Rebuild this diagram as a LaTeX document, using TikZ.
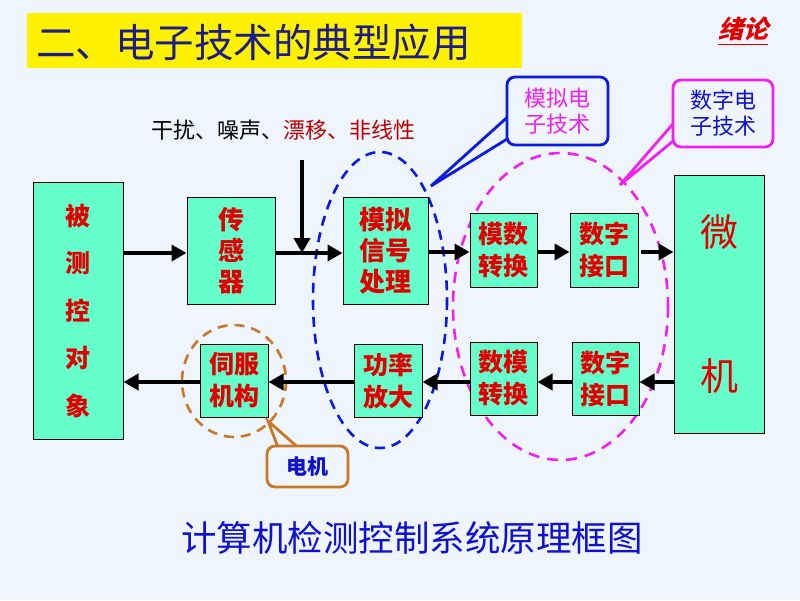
\documentclass[tikz,border=0pt]{standalone}
\usepackage{fontspec}
\setmainfont{Noto Sans CJK SC}
\newfontfamily\slantcjk[FakeSlant=0.25]{Noto Sans CJK SC}
\usetikzlibrary{arrows.meta}
\definecolor{bgc}{HTML}{EEF5FC}
\definecolor{boxg}{HTML}{66FFCC}
\definecolor{boxred}{HTML}{E00000}
\definecolor{darkred}{HTML}{C00000}
\definecolor{titleblue}{HTML}{1C1C8C}
\definecolor{capblue}{HTML}{1010D0}
\definecolor{elblue}{HTML}{0A1AE0}
\definecolor{mag}{HTML}{F020F0}
\definecolor{org}{HTML}{C87828}
\tikzset{
  blockbox/.style={draw=black, line width=1pt, fill=boxg, inner sep=0pt, text=boxred, align=center},
  flow/.style={line width=4.5pt, -{Triangle[length=15pt,width=16pt]}},
  callout/.style={rounded corners=8pt, line width=2.8pt, fill=bgc, inner sep=0pt, align=center},
}
\begin{document}
\begin{tikzpicture}[x=1pt,y=-1pt]
\fill[bgc] (0,0) rectangle (800,600);
\useasboundingbox (0,0) rectangle (800,600);
% title
\fill[yellow] (27,13) rectangle (522,68);
\node[anchor=west, inner sep=0pt, text=titleblue, font=\fontsize{39.5}{41}\selectfont] (title) at (36,42) {二、电子技术的典型应用};
\node[inner sep=0pt, text=boxred, font=\slantcjk\bfseries\fontsize{25}{27}\selectfont] (xulun) at (743,29) {绪论};
\draw[boxred, line width=1.2pt] ([yshift=-3pt]xulun.south west) -- ([yshift=-3pt]xulun.south east);
% disturbance text
\node[inner sep=0pt, font=\fontsize{22}{24}\selectfont] (noisetxt) at (283,130) {干扰、噪声、\textcolor{darkred}{漂移、非线性}};
% ellipses
\draw[elblue, line width=2.6pt, dash pattern=on 10pt off 7pt] (380,300) ellipse [x radius=67, y radius=148];
\draw[mag, line width=2.6pt, dash pattern=on 11pt off 8pt] (560.5,306.5) ellipse [x radius=107.5, y radius=153.5];
\draw[org, line width=2.6pt, dash pattern=on 10pt off 7pt] (234,381) ellipse [x radius=52, y radius=56];
% blocks
\node[blockbox, minimum width=90pt, minimum height=257pt, font=\bfseries\fontsize{25}{47.5}\selectfont] (obj) at (78,310.5) {被\\测\\控\\对\\象};
\node[blockbox, minimum width=88pt, minimum height=107pt, font=\bfseries\fontsize{26}{31}\selectfont] (sens) at (231,250.5) {传\\感\\器};
\node[blockbox, minimum width=85pt, minimum height=107pt, font=\bfseries\fontsize{26}{31}\selectfont] (asp) at (385.5,250.5) {模拟\\信号\\处理};
\node[blockbox, minimum width=67pt, minimum height=74pt, font=\bfseries\fontsize{25}{32}\selectfont] (adc) at (503.5,250) {模数\\转换};
\node[blockbox, minimum width=68pt, minimum height=74pt, font=\bfseries\fontsize{25}{32}\selectfont] (dio1) at (604,250) {数字\\接口};
\node[blockbox, minimum width=90pt, minimum height=258pt, font=\fontsize{38}{144}\selectfont] (mc) at (719,304) {微\\机};
\node[blockbox, minimum width=67pt, minimum height=73pt, font=\bfseries\fontsize{25}{32}\selectfont] (dac) at (503.5,378.5) {数模\\转换};
\node[blockbox, minimum width=67pt, minimum height=73pt, font=\bfseries\fontsize{25}{32}\selectfont] (dio2) at (605.5,378.5) {数字\\接口};
\node[blockbox, minimum width=68pt, minimum height=73pt, font=\bfseries\fontsize{25}{32}\selectfont] (pa) at (388,380.5) {功率\\放大};
\node[blockbox, minimum width=68pt, minimum height=73pt, font=\bfseries\fontsize{25}{32}\selectfont] (servo) at (234,380.5) {伺服\\机构};
% arrows top
\coordinate (junc) at (302,253);
\coordinate (noise) at (302,160);
\draw[flow] (obj.east |- 0,253) -- (sens.west |- 0,253);
\draw[flow] (sens.east |- 0,253) -- (asp.west |- 0,253);
\draw[flow] (noise) -- (junc);
\draw[flow] (asp.east |- 0,252) -- (adc.west |- 0,252);
\draw[flow] (adc.east |- 0,252) -- (dio1.west |- 0,252);
\draw[flow] ([xshift=2pt]dio1.east |- 0,252) -- (mc.west |- 0,252);
% arrows bottom
\draw[flow] (mc.west |- 0,382) -- (dio2.east |- 0,382);
\draw[flow] (dio2.west |- 0,382) -- (dac.east |- 0,382);
\draw[flow] (dac.west |- 0,382) -- (pa.east |- 0,382);
\draw[flow] (pa.west |- 0,382) -- (servo.east |- 0,382);
\draw[flow] (servo.west |- 0,382) -- (obj.east |- 0,382);
% callouts
\coordinate (tipA) at (431,186);
\coordinate (tipD) at (620,185);
\coordinate (tipM) at (268,421);
\draw[elblue, line width=2.8pt, line join=miter] (512,113) -- (tipA) -- (512,136);
\node[callout, draw=elblue, minimum width=101pt, minimum height=68pt, text=mag, font=\fontsize{22}{26}\selectfont] (anaco) at (557.5,111) {模拟电\\子技术};
\draw[mag, line width=2.8pt, line join=miter] (678,118) -- (tipD) -- (678,137);
\node[callout, draw=mag, minimum width=100pt, minimum height=67pt, text=capblue, font=\fontsize{22}{26}\selectfont] (digco) at (723,113.5) {数字电\\子技术};
\draw[org, line width=2.8pt, line join=miter] (279,450) -- (tipM) -- (301,450);
\node[callout, draw=org, minimum width=81pt, minimum height=41pt, text=capblue, font=\bfseries\fontsize{21}{24}\selectfont] (motor) at (307.5,466.5) {电机};
% caption
\node[inner sep=0pt, text=capblue, font=\fontsize{35.5}{37}\selectfont] (caption) at (412,538) {计算机检测控制系统原理框图};
\end{tikzpicture}
\end{document}
